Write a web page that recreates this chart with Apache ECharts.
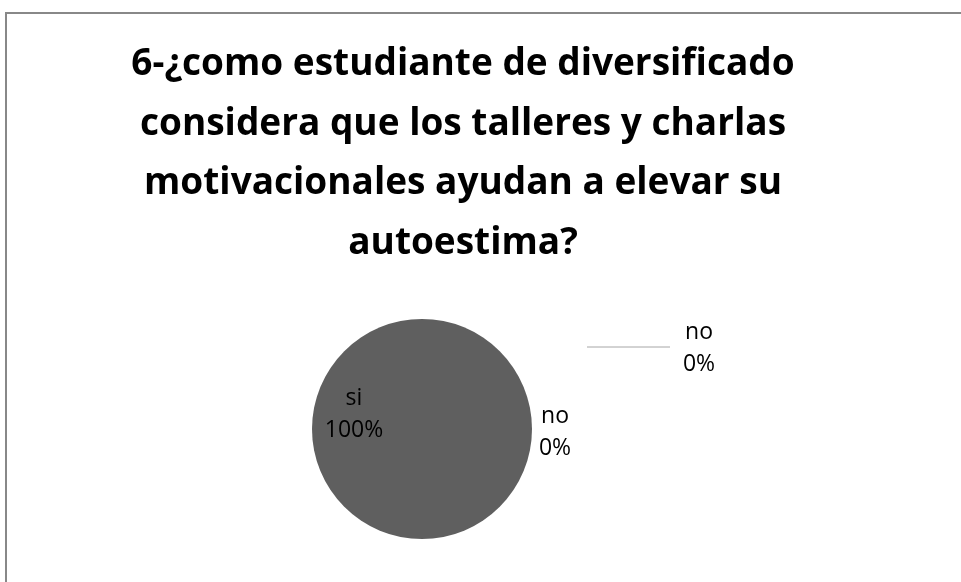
<!DOCTYPE html>
<html>
<head>
<meta charset="utf-8">
<script src="https://cdn.jsdelivr.net/npm/echarts@6/dist/echarts.min.js"></script>
<style>
  html, body { margin: 0; padding: 0; background: #fff; overflow: hidden; }
  #frame { position: absolute; left: 5px; top: 12px; width: 1000px; height: 700px; border: 2px solid #888; }
  #main { position: absolute; left: 0; top: 0; width: 926px; height: 582px; }
</style>
</head>
<body>
<div id="frame"></div>
<div id="main"></div>
<script>
var titleText = '6-¿como estudiante de diversificado\nconsidera que los talleres y charlas\nmotivacionales ayudan a elevar su\nautoestima?';
var categories = ['si', 'no', 'no'];
var values = [100, 0, 0];

var cx = 422, cy = 429, r = 110; // pie position

var chart = echarts.init(document.getElementById('main'));
chart.setOption({
  animation: false,
  title: {
    text: titleText,
    left: 'center',
    top: 30,
    textStyle: {
      fontFamily: 'Open Sans',
      fontWeight: 'bold',
      fontSize: 37,
      lineHeight: 59.5,
      color: '#000'
    }
  },
  series: [{
    type: 'pie',
    center: [cx, cy],
    radius: r,
    startAngle: 0,
    avoidLabelOverlap: false,
    data: categories.map(function (c, i) {
      return { name: c, value: values[i], labelLine: { show: i === 2 } };
    }),
    itemStyle: { color: '#5f5f5f' },
    label: {
      show: true,
      formatter: '{b}\n{d}%',
      fontFamily: 'Open Sans',
      fontSize: 23,
      lineHeight: 32,
      color: '#000',
      align: 'center'
    },
    labelLine: { lineStyle: { color: '#a6a6a6', width: 1 } },
    labelLayout: function (p) {
      if (p.dataIndex === 0) {
        return { x: cx - 68, y: cy - 15, align: 'center', verticalAlign: 'middle' };
      }
      if (p.dataIndex === 1) {
        return { x: cx + 133, y: cy + 3, align: 'center', verticalAlign: 'middle' };
      }
      return {
        x: cx + 277, y: cy - 81, align: 'center', verticalAlign: 'middle',
        labelLinePoints: [[cx + 165, cy - 82], [cx + 206, cy - 82], [cx + 248, cy - 82]]
      };
    }
  }]
});
</script>
</body>
</html>
